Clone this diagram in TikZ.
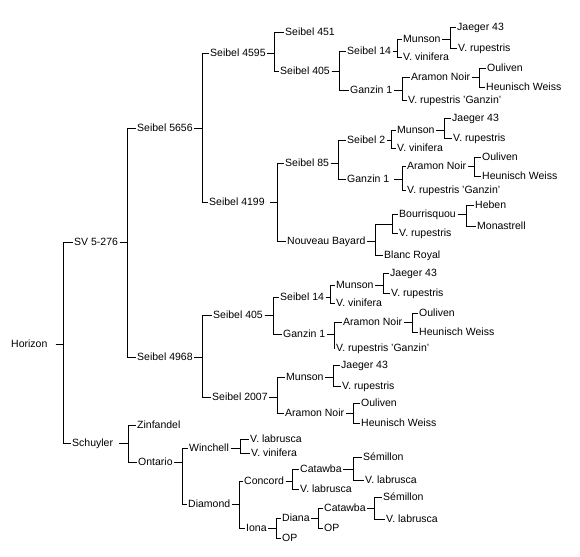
\documentclass[tikz,border=0pt]{standalone}
\usepackage{fontspec}
\setmainfont{Liberation Sans}

\begin{document}
\begin{tikzpicture}[x=1pt,y=-1pt]
  \tikzset{vine/.style={anchor=west,xshift=-1.5pt,inner xsep=1.5pt,inner ysep=0pt,text height=7.5pt,text depth=0pt,font=\fontsize{10.5}{12}\selectfont}, link/.style={line width=.9pt,black}}
  \useasboundingbox[fill=white] (0,0) rectangle (580,556);
  % first generations
  \node[vine] (hor) at (11,344) {Horizon};
  \node[vine] (sv) at (74,242) {SV 5-276};
  \node[vine] (sch) at (72,443) {Schuyler};
  \node[vine] (s5656) at (137,128) {Seibel 5656};
  \node[vine] (s4968) at (137,357) {Seibel 4968};
  \node[vine] (zin) at (137,425) {Zinfandel};
  \node[vine] (ont) at (138,462) {Ontario};
  % Seibel 4595
  \node[vine] (s4595) at (210,53) {Seibel 4595};
  \node[vine] (s451) at (285,32) {Seibel 451};
  \node[vine] (s405a) at (280,71) {Seibel 405};
  \node[vine] (s14a) at (347,51) {Seibel 14};
  \node[vine] (muna) at (403,39) {Munson};
  \node[vine] (jaea) at (457,27) {Jaeger 43};
  \node[vine] (vrupa) at (458,48) {V. rupestris};
  \node[vine] (vvina) at (403,57) {V. vinifera};
  \node[vine] (gana) at (350,90) {Ganzin 1};
  \node[vine] (arana) at (411,77) {Aramon Noir};
  \node[vine] (oula) at (487,68) {Ouliven};
  \node[vine] (heua) at (486,87) {Heunisch Weiss};
  \node[vine] (vrga) at (408,100) {V. rupestris 'Ganzin'};
  % Seibel 4199
  \node[vine] (s4199) at (209,202) {Seibel 4199};
  \node[vine] (s85) at (285,163) {Seibel 85};
  \node[vine] (s2) at (347,140) {Seibel 2};
  \node[vine] (munb) at (397,130) {Munson};
  \node[vine] (jaeb) at (452,118) {Jaeger 43};
  \node[vine] (vrupb) at (453,138) {V. rupestris};
  \node[vine] (vvinb) at (397,148) {V. vinifera};
  \node[vine] (ganb) at (347,179) {Ganzin 1};
  \node[vine] (aranb) at (407,166) {Aramon Noir};
  \node[vine] (oulb) at (482,157) {Ouliven};
  \node[vine] (heub) at (482,176) {Heunisch Weiss};
  \node[vine] (vrgb) at (407,190) {V. rupestris 'Ganzin'};
  \node[vine] (nb) at (287,241) {Nouveau Bayard};
  \coordinate (nbx) at (392,224);
  \node[vine] (bour) at (399,214) {Bourrisquou};
  \node[vine] (heb) at (475,205) {Heben};
  \node[vine] (mon) at (477,226) {Monastrell};
  \node[vine] (vrupc) at (399,233) {V. rupestris};
  \node[vine] (blanc) at (384,255) {Blanc Royal};
  % Seibel 4968
  \node[vine] (s405b) at (213,315) {Seibel 405};
  \node[vine] (s14b) at (280,297) {Seibel 14};
  \node[vine] (munc) at (336,285) {Munson};
  \node[vine] (jaec) at (390,273) {Jaeger 43};
  \node[vine] (vrupd) at (391,293) {V. rupestris};
  \node[vine] (vvinc) at (336,303) {V. vinifera};
  \node[vine] (ganc) at (283,334) {Ganzin 1};
  \node[vine] (aranc) at (343,322) {Aramon Noir};
  \node[vine] (oulc) at (419,313) {Ouliven};
  \node[vine] (heuc) at (419,332) {Heunisch Weiss};
  \node[vine] (vrgc) at (336,348) {V. rupestris 'Ganzin'};
  \node[vine] (s2007) at (212,397) {Seibel 2007};
  \node[vine] (mund) at (286,377) {Munson};
  \node[vine] (jaed) at (341,365) {Jaeger 43};
  \node[vine] (vrupe) at (342,386) {V. rupestris};
  \node[vine] (arand) at (285,413) {Aramon Noir};
  \node[vine] (ould) at (361,403) {Ouliven};
  \node[vine] (heud) at (361,423) {Heunisch Weiss};
  % Schuyler
  \node[vine] (win) at (189,448) {Winchell};
  \node[vine] (vlaba) at (250,439) {V. labrusca};
  \node[vine] (vvind) at (251,453) {V. vinifera};
  \node[vine] (dia) at (188,504) {Diamond};
  \node[vine] (con) at (244,481) {Concord};
  \node[vine] (cata) at (300,469) {Catawba};
  \node[vine] (sema) at (363,457) {Sémillon};
  \node[vine] (vlabc) at (365,480) {V. labrusca};
  \node[vine] (vlabb) at (300,489) {V. labrusca};
  \node[vine] (iona) at (246,528) {Iona};
  \node[vine] (diana) at (282,518) {Diana};
  \node[vine] (catb) at (324,508) {Catawba};
  \node[vine] (semb) at (383,497) {Sémillon};
  \node[vine] (vlabd) at (386,519) {V. labrusca};
  \node[vine] (opb) at (324,528) {OP};
  \node[vine] (opa) at (282,538) {OP};
  % parent -> offspring brackets
  \foreach \p/\s/\d/\c in {hor/6.5/8/sv, hor/6.5/8/sch, sv/0/7.5/s5656, sv/0/7.5/s4968,
      sch/4.5/9/zin, sch/4.5/9/ont, s5656/0/8.5/s4595, s5656/0/8.5/s4199,
      s4595/0/7.5/s451, s4595/0/7.5/s405a, s405a/0/7.5/s14a, s405a/0/7.5/gana,
      s14a/0/4.5/muna, s14a/0/4.5/vvina, muna/0/8.5/jaea, muna/0/8.5/vrupa,
      gana/0/8.5/arana, gana/0/8.5/vrga, arana/0/7.5/oula, arana/0/7.5/heua,
      s4199/3.5/8/s85, s4199/3.5/8/nb, s85/0/7.5/s2, s85/0/7.5/ganb,
      s2/0/4.5/munb, s2/0/4.5/vvinb, munb/0/8.5/jaeb, munb/0/8.5/vrupb,
      ganb/3/8.5/aranb, ganb/3/8.5/vrgb, aranb/0/6.5/oulb, aranb/0/6.5/heub,
      nb/0/8.5/blanc, bour/0/8.5/heb, bour/0/8.5/mon,
      s4968/0/8.5/s405b, s4968/0/8.5/s2007, s405b/0/8.5/s14b, s405b/0/8.5/ganc,
      s14b/0/4.5/munc, s14b/0/4.5/vvinc, munc/0/8.5/jaec, munc/0/8.5/vrupd,
      ganc/0/7.5/aranc, ganc/0/7.5/vrgc, aranc/0/8.5/oulc, aranc/0/8.5/heuc,
      s2007/0/8.5/mund, s2007/0/8.5/arand, mund/0/8.5/jaed, mund/0/8.5/vrupe,
      arand/0/7.5/ould, arand/0/7.5/heud,
      ont/0/8.5/win, ont/0/8.5/dia, win/0/9.5/vlaba, win/0/9.5/vvind,
      dia/0/7.5/con, dia/0/7.5/iona, con/0/6.5/cata, con/0/6.5/vlabb,
      cata/0/10.5/sema, cata/0/10.5/vlabc, iona/0/8.5/diana, iona/0/8.5/opa,
      diana/0/7.5/catb, diana/0/7.5/opb, catb/0/7.5/semb, catb/0/7.5/vlabd}
    \draw[link] ([xshift=\s]\p.east) -- ++(\d,0) |- (\c.west);
  \draw[link] (nb.east) -- ++(8.5,0) |- (nbx);
  \draw[link] (nbx) |- (bour.west);
  \draw[link] (nbx) |- (vrupc.west);
\end{tikzpicture}
\end{document}
